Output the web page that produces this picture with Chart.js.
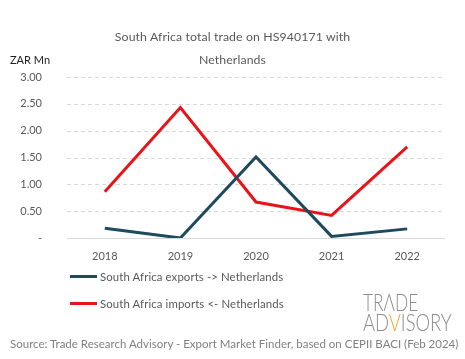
<!DOCTYPE html>
<html>
<head>
<meta charset="utf-8">
<script src="https://cdn.jsdelivr.net/npm/chart.js@4.4.1/dist/chart.umd.min.js"></script>
<style>
  html, body { margin: 0; padding: 0; background: #fff; }
  #wrap { position: relative; width: 465px; height: 359px; font-family: Lato, sans-serif; color: #595959; }
  #wrap canvas { position: absolute; left: 0; top: 0; }
  .abs { position: absolute; white-space: nowrap; }
  .title { left: 0; width: 465px; text-align: center; font-size: 12.3px; color: #595959; letter-spacing: 0.1px; }
  .legend { left: 70px; font-size: 11.4px; display: flex; align-items: center; letter-spacing: 0.1px; }
  .legend i { display: inline-block; width: 27px; height: 3px; margin-right: 3px; }
  .logo { left: 363px; font-size: 24px; font-weight: 300; color: #8c8c8c; line-height: 1; transform-origin: 0 0; }
</style>
</head>
<body>
<div id="wrap">
  <canvas id="myChart" width="465" height="359"></canvas>
  <div class="abs title" style="top:29px">South Africa total trade on HS940171 with</div>
  <div class="abs title" style="top:52px">Netherlands</div>
  <div class="abs" style="left:10px; top:53px; font-size:11px; color:#222">ZAR Mn</div>
  <div class="abs legend" style="top:270px"><i style="background:#1d4a5c"></i>South Africa exports -&gt; Netherlands</div>
  <div class="abs legend" style="top:297px"><i style="background:#e8141c"></i>South Africa imports &lt;- Netherlands</div>
  <div class="abs logo" id="logo1" style="top:290px">TR<span>Λ</span>DE</div>
  <div class="abs logo" id="logo2" style="top:310px">AD<span style="color:#f0a830">V</span>ISORY</div>
  <div class="abs" style="left:10px; top:337px; font-size:11.5px; color:#808080">Source: Trade Research Advisory - Export Market Finder, based on CEPII BACI (Feb 2024)</div>
</div>
<script>
const years = ['2018', '2019', '2020', '2021', '2022'];
const exportsToNL = [0.18, 0.00, 1.51, 0.03, 0.17];
const importsFromNL = [0.86, 2.43, 0.67, 0.42, 1.70];

// squeeze the logo words to the widths seen in the picture
function fitWidth(id, w) {
    const el = document.getElementById(id);
    el.style.transform = 'scaleX(' + (w / el.offsetWidth) + ')';
}
fitWidth('logo1', 55);
fitWidth('logo2', 89);

// dashed horizontal grid lines, drawn from the y scale ticks
const dashedGrid = {
    id: 'dashedGrid',
    beforeDatasetsDraw(chart) {
        const { ctx, chartArea, scales } = chart;
        ctx.save();
        ctx.lineWidth = 1;
        scales.y.ticks.forEach(t => {
            const y = Math.round(scales.y.getPixelForValue(t.value)) + 0.5;
            ctx.strokeStyle = '#d9d9d9';
            ctx.setLineDash(t.value === 0 ? [] : [4, 3]);
            ctx.beginPath();
            ctx.moveTo(chartArea.left, y);
            ctx.lineTo(chartArea.right, y);
            ctx.stroke();
        });
        ctx.restore();
    }
};

const ctx = document.getElementById('myChart').getContext('2d');
new Chart(ctx, {
    type: 'line',
    data: {
        labels: years,
        datasets: [
            { label: 'South Africa exports -> Netherlands', data: exportsToNL, borderColor: '#1d4a5c', borderWidth: 3, pointRadius: 0, fill: false, tension: 0 },
            { label: 'South Africa imports <- Netherlands', data: importsFromNL, borderColor: '#e8141c', borderWidth: 3, pointRadius: 0, fill: false, tension: 0 }
        ]
    },
    plugins: [dashedGrid],
    options: {
        responsive: false,
        animation: false,
        layout: { padding: { top: 77, left: 0, right: 20, bottom: 91 } },
        plugins: { legend: { display: false }, tooltip: { enabled: false } },
        scales: {
            x: {
                offset: true,
                grid: { display: false },
                border: { display: false },
                ticks: { color: '#595959', font: { family: 'Lato', size: 11 }, padding: 4 },
                afterFit: s => { s.height = 30; }
            },
            y: {
                min: 0, max: 3,
                ticks: {
                    stepSize: 0.5, color: '#595959', font: { family: 'Lato', size: 11 }, padding: 17,
                    callback: v => v === 0 ? '-' : v.toFixed(2)
                },
                grid: { display: false },
                border: { display: false },
                afterFit: s => { s.width = 67; }
            }
        }
    }
});
</script>
</body>
</html>
